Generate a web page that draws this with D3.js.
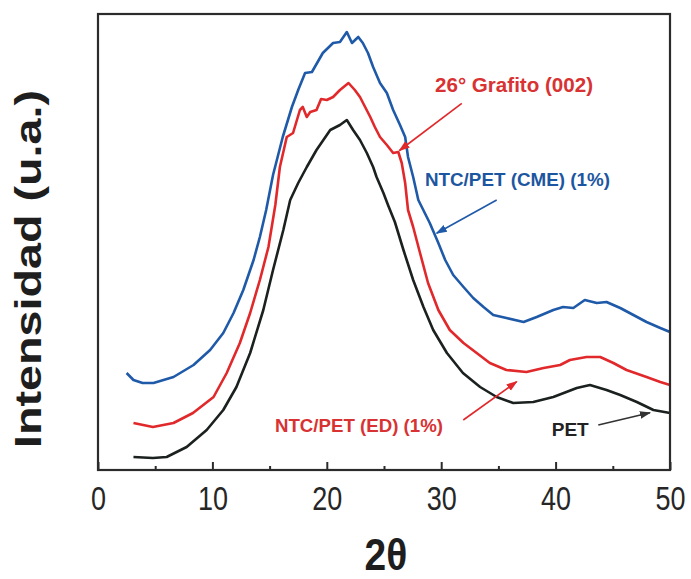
<!DOCTYPE html>
<html>
<head>
<meta charset="utf-8">
<script src="https://cdn.jsdelivr.net/npm/d3@7"></script>
<style>
  html, body { margin: 0; padding: 0; background: #ffffff; }
  svg { display: block; font-family: "Liberation Sans", Arial, sans-serif; }
</style>
</head>
<body>
<script>
// ---------- data (intensity in arbitrary units) ----------
const petTheta = [3.1,4.8,6.0,7.75,9.5,10.95,12.1,13.3,14.45,15.3,16.2,16.8,17.5,18.25,19.1,19.7,20.3,21.15,21.75,22.3,22.9,23.5,24.05,24.35,24.95,25.35,25.95,26.7,27.55,28.45,29.3,30.5,31.9,33.4,34.85,36.3,38.05,39.8,41.85,43.0,44.45,45.65,47.1,48.55,50.0];
const petInt   = [13,12,13,23,40,60,83,117,160,200,240,270,287,303,320,330,340,345,350,340,330,317,303,293,277,265,248,220,190,163,140,117,97,83,73,67,68,73,82,85,80,75,68,60,57];

const edTheta = [3.1,4.8,6.6,8.3,10.1,11.25,12.4,13.3,14.15,14.9,15.5,15.9,16.5,17.05,17.65,17.9,18.25,18.55,19.1,19.5,20.0,20.55,21.15,21.9,22.45,22.9,23.35,23.8,24.2,24.65,25.25,25.8,26.25,26.55,26.85,27.1,27.55,28.15,28.85,29.75,30.75,31.95,33.1,34.25,35.7,37.45,38.95,40.4,41.25,42.7,43.9,45.05,46.2,47.95,49.15,50.0];
const edInt   = [47,43,47,57,73,97,127,157,190,223,265,303,333,337,360,363,353,358,360,371,370,373,380,387,380,373,363,353,343,333,325,317,318,307,287,260,243,217,187,160,140,127,117,107,100,98,102,105,110,113,113,107,100,93,88,85];

const cmeTheta = [2.5,3.1,3.9,4.85,6.6,8.35,9.8,10.95,11.85,12.7,13.6,14.15,14.7,15.3,16.15,16.95,17.5,18.1,18.7,19.65,20.55,21.15,21.75,22.2,22.75,23.15,23.6,24.05,24.65,25.25,25.8,26.4,26.85,27.1,27.55,28.0,29.0,29.75,30.35,31.05,31.95,32.8,33.7,34.55,35.7,37.2,38.35,39.8,40.65,41.55,42.55,43.6,44.45,45.65,46.8,47.95,49.15,50.0];
const cmeInt   = [97,90,87,87,93,105,120,137,157,180,210,233,260,295,333,363,380,397,398,417,427,428,438,427,433,427,417,403,387,377,360,345,333,313,293,270,247,227,210,195,183,172,163,155,152,148,153,160,163,162,170,167,168,162,155,148,142,138];

const majorTicks = [0, 10, 20, 30, 40, 50];
const minorTicks = [5, 15, 25, 35, 45];

const seriesNames  = ["PET", "NTC/PET (ED) (1%)", "NTC/PET (CME) (1%)"];
const annotationText = ["26° Grafito (002)", "NTC/PET (CME) (1%)", "NTC/PET (ED) (1%)", "PET"];

// ---------- layout ----------
const W = 691, H = 579;
const L = 98, R = 670, T = 14, B = 470;

const x = d3.scaleLinear().domain([0, 50]).range([L, R]);
const y = d3.scaleLinear().domain([0, 456]).range([B, T]);

const svg = d3.select("body").append("svg").attr("width", W).attr("height", H);
svg.append("rect").attr("width", W).attr("height", H).attr("fill", "#ffffff");

const defs = svg.append("defs");
function marker(id, color) {
  defs.append("marker").attr("id", id)
    .attr("viewBox", "0 0 10 10").attr("refX", 9).attr("refY", 5)
    .attr("markerWidth", 7).attr("markerHeight", 7).attr("orient", "auto")
    .append("path").attr("d", "M0,1.5 L10,5 L0,8.5 Z").attr("fill", color);
}
const cRed = "#e1282b", cBlue = "#1f5aa9", cBlack = "#1b211e";
const cRedText = "#d83232", cBlueText = "#1d56a0", cBlackText = "#222222";
marker("mRed", cRed); marker("mBlue", cBlue); marker("mBlack", "#333333");

// ---------- axes ----------
const gx = svg.append("g").attr("transform", `translate(0,${B})`)
  .call(d3.axisBottom(x).tickValues(majorTicks).tickSize(-8).tickFormat(d3.format("d")));
gx.select(".domain").remove();
gx.selectAll(".tick line").attr("stroke", "#2b2b2b").attr("stroke-width", 2);
gx.selectAll(".tick text")
  .attr("fill", "#262626").attr("font-size", 27).attr("dy", null)
  .attr("y", 40 / 1.2).attr("transform", "scale(1,1.2)");

const gxm = svg.append("g").attr("transform", `translate(0,${B})`)
  .call(d3.axisBottom(x).tickValues(minorTicks).tickSize(-4).tickFormat(""));
gxm.select(".domain").remove();
gxm.selectAll(".tick line").attr("stroke", "#2b2b2b").attr("stroke-width", 2);

// ---------- curves ----------
const line = d3.line().x(d => x(d[0])).y(d => y(d[1])).curve(d3.curveLinear);
const series = [
  { name: seriesNames[2], t: cmeTheta, v: cmeInt, color: cBlue },
  { name: seriesNames[1], t: edTheta,  v: edInt,  color: cRed },
  { name: seriesNames[0], t: petTheta, v: petInt, color: cBlack }
];
series.forEach(s => {
  svg.append("path")
    .datum(s.t.map((t, i) => [t, s.v[i]]))
    .attr("fill", "none").attr("stroke", s.color)
    .attr("stroke-width", 2.6).attr("stroke-linejoin", "round")
    .attr("d", line);
});

// ---------- frame ----------
svg.append("rect").attr("x", x(0)).attr("y", y(456))
  .attr("width", x(50) - x(0)).attr("height", y(0) - y(456))
  .attr("fill", "none").attr("stroke", "#2b2b2b").attr("stroke-width", 2.2);

// ---------- annotations ----------
function arrow(x1, y1, x2, y2, color, mk) {
  svg.append("line")
    .attr("x1", x(x1)).attr("y1", y(y1)).attr("x2", x(x2)).attr("y2", y(y2))
    .attr("stroke", color).attr("stroke-width", 1.6).attr("marker-end", `url(#${mk})`);
}
function label(txt, tx, ty, color, size, len) {
  svg.append("text").attr("x", x(tx)).attr("y", y(ty))
    .attr("fill", color).attr("font-weight", "bold").attr("font-size", size)
    .attr("textLength", len).attr("lengthAdjust", "spacingAndGlyphs")
    .text(txt);
}
label(annotationText[0], 29.46, 378, cRedText, 20.5, 158);
arrow(31.8, 366.7, 26.35, 319.5, cRed, "mRed");

label(annotationText[1], 28.58, 284, cBlueText, 19, 185);
arrow(34.85, 270, 29.6, 236.7, cBlue, "mBlue");

label(annotationText[2], 15.47, 38.5, cRedText, 19, 168);
arrow(31.93, 50, 36.6, 88.3, cRed, "mRed");

label(annotationText[3], 39.66, 34, cBlackText, 19, 37);
arrow(43.73, 45, 48.25, 57.3, "#333333", "mBlack");

// ---------- axis titles ----------
svg.append("text")
  .attr("transform", `translate(${(L + R) / 2 + 2},570) scale(1,1.12)`)
  .attr("text-anchor", "middle").attr("font-weight", "bold").attr("font-size", 39)
  .attr("fill", "#1e1e1e").text("2θ");

svg.append("text")
  .attr("transform", "translate(41,269) rotate(-90)")
  .attr("text-anchor", "middle").attr("font-weight", "bold").attr("font-size", 37)
  .attr("textLength", 358).attr("lengthAdjust", "spacingAndGlyphs")
  .attr("fill", "#1e1e1e").text("Intensidad (u.a.)");
</script>
</body>
</html>
